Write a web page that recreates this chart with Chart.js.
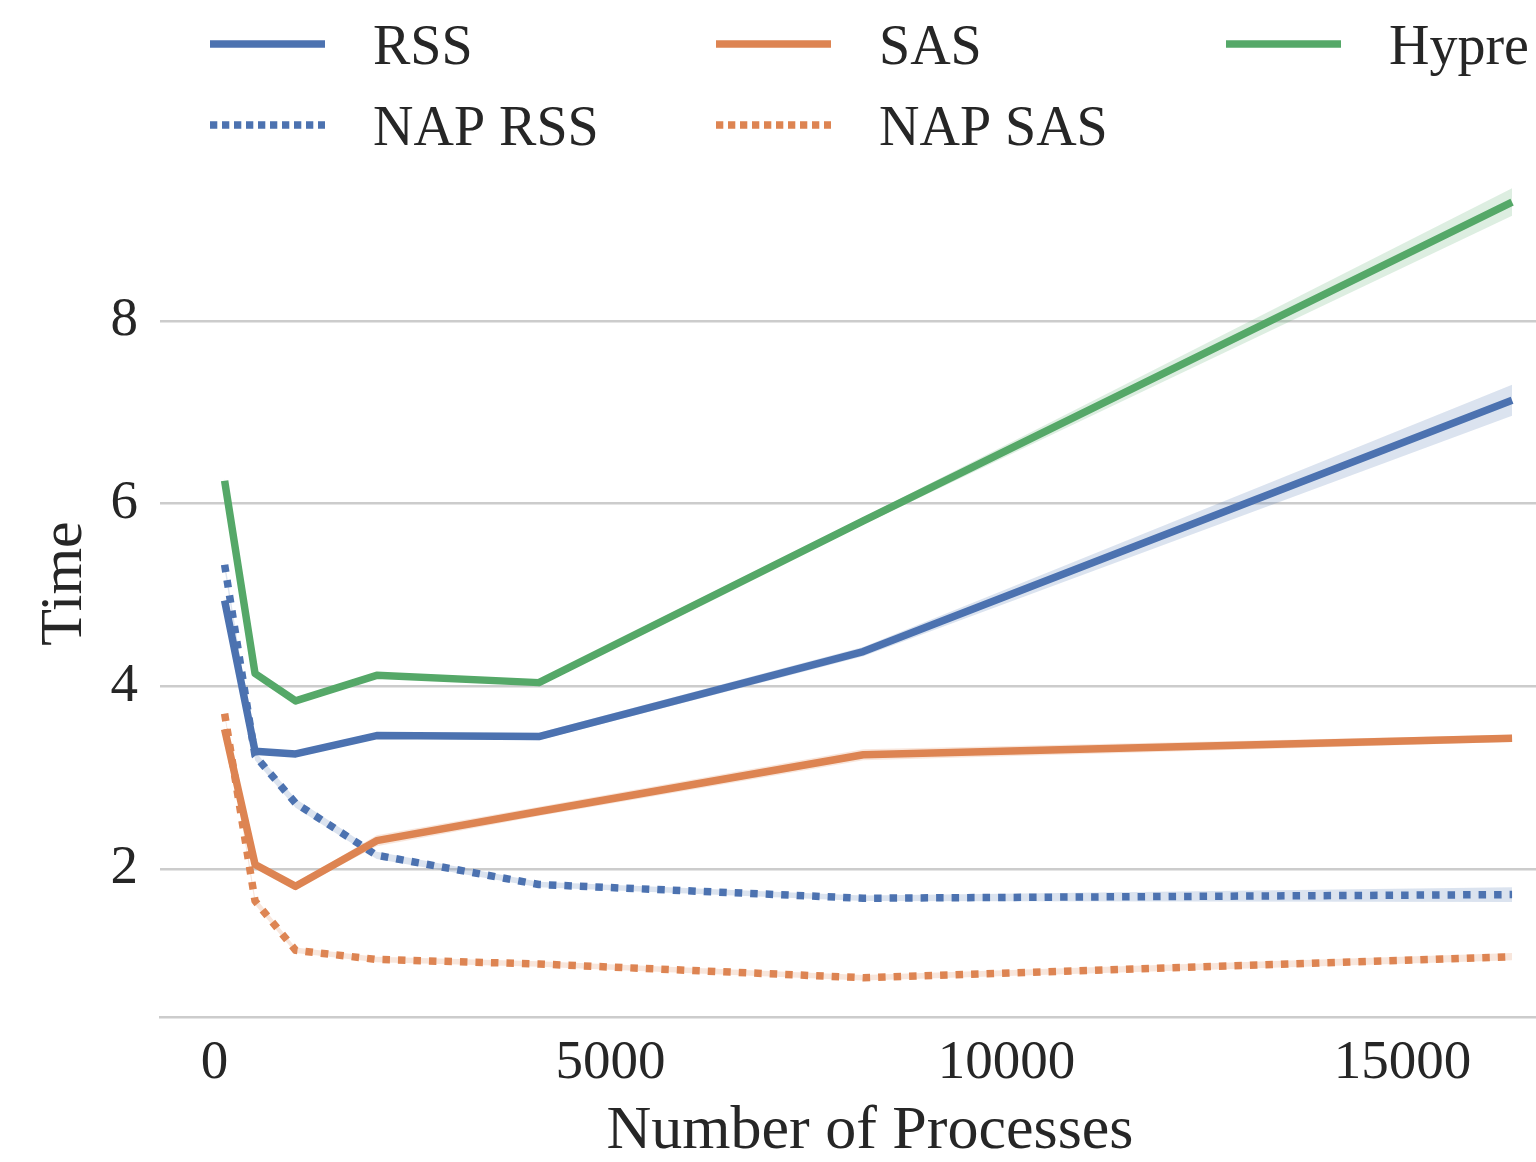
<!DOCTYPE html>
<html>
<head>
<meta charset="utf-8">
<title>Time vs Number of Processes</title>
<script src="https://cdn.jsdelivr.net/npm/chart.js@4/dist/chart.umd.min.js"></script>
<style>
  html, body { margin: 0; padding: 0; background: #ffffff; }
  #wrap { width: 1536px; height: 1162px; }
</style>
</head>
<body>
<div id="wrap"><canvas id="chart" width="1536" height="1162"></canvas></div>
<script>
// Process counts (x axis)
const procs = [128, 512, 1024, 2048, 4096, 8192, 16384];

// Mean times per method
const rss     = [4.94, 3.29, 3.26, 3.46, 3.45, 4.38, 7.13];
const napRss  = [5.33, 3.24, 2.72, 2.15, 1.83, 1.68, 1.72];
const sas     = [3.53, 2.05, 1.81, 2.31, 2.63, 3.25, 3.43];
const napSas  = [3.70, 1.65, 1.11, 1.01, 0.96, 0.81, 1.04];
const hypre   = [6.25, 4.14, 3.84, 4.12, 4.04, 5.81, 9.30];

// Confidence interval bounds per method
const rssLo    = [4.90, 3.26, 3.23, 3.43, 3.41, 4.33, 6.96];
const rssHi    = [4.98, 3.32, 3.29, 3.49, 3.49, 4.43, 7.30];
const napRssLo = [5.28, 3.19, 2.67, 2.11, 1.80, 1.65, 1.64];
const napRssHi = [5.38, 3.29, 2.77, 2.19, 1.86, 1.71, 1.80];
const sasLo    = [3.50, 2.02, 1.78, 2.25, 2.58, 3.19, 3.39];
const sasHi    = [3.56, 2.08, 1.84, 2.37, 2.68, 3.31, 3.47];
const napSasLo = [3.67, 1.61, 1.08, 0.98, 0.93, 0.78, 1.00];
const napSasHi = [3.73, 1.69, 1.14, 1.04, 0.99, 0.84, 1.08];
const hypreLo  = [6.22, 4.11, 3.82, 4.09, 4.01, 5.77, 9.15];
const hypreHi  = [6.28, 4.17, 3.86, 4.15, 4.07, 5.85, 9.45];

// Axis ticks
const xTicks = [0, 5000, 10000, 15000];
const yTicks = [2, 4, 6, 8];

const BLUE = '#4c72b0', ORANGE = '#dd8452', GREEN = '#55a868';
const SERIF = '"Liberation Serif", "DejaVu Serif", serif';
const TEXT = '#262626';

const pts = ys => procs.map((x, i) => ({ x: x, y: ys[i] }));
const fade = (hex, a) => {
  const n = parseInt(hex.slice(1), 16);
  return `rgba(${n >> 16},${(n >> 8) & 255},${n & 255},${a})`;
};

const series = [
  { label: 'RSS',     mean: rss,    lo: rssLo,    hi: rssHi,    color: BLUE,   dotted: false },
  { label: 'NAP RSS', mean: napRss, lo: napRssLo, hi: napRssHi, color: BLUE,   dotted: true  },
  { label: 'SAS',     mean: sas,    lo: sasLo,    hi: sasHi,    color: ORANGE, dotted: false },
  { label: 'NAP SAS', mean: napSas, lo: napSasLo, hi: napSasHi, color: ORANGE, dotted: true  },
  { label: 'Hypre',   mean: hypre,  lo: hypreLo,  hi: hypreHi,  color: GREEN,  dotted: false }
];

const datasets = [];
series.forEach(s => {
  // shaded band: upper edge filled down to the lower edge
  datasets.push({
    label: s.label + ' hi', data: pts(s.hi), borderWidth: 0, pointRadius: 0,
    backgroundColor: fade(s.color, 0.2), fill: '+1', order: 20, tension: 0
  });
  datasets.push({
    label: s.label + ' lo', data: pts(s.lo), borderWidth: 0, pointRadius: 0,
    fill: false, order: 20, tension: 0
  });
});
series.forEach((s, k) => {
  datasets.push({
    label: s.label, data: pts(s.mean), borderColor: s.color, borderWidth: 7.5,
    borderDash: s.dotted ? [7.5, 8] : [], borderCapStyle: 'butt',
    borderJoinStyle: 'round', pointRadius: 0, fill: false, order: 10 - k, tension: 0
  });
});

// Three-column legend above the plot area, plus the x axis title
const decorPlugin = {
  id: 'decor',
  afterDraw(chart) {
    const ctx = chart.ctx;
    const cols = [210, 716, 1226];
    const rows = [44, 125];
    const layout = [[0, 0, 0], [1, 0, 1], [2, 1, 0], [3, 1, 1], [4, 2, 0]];
    ctx.save();
    layout.forEach(([si, c, r]) => {
      const s = series[si];
      const x = cols[c], y = rows[r];
      ctx.beginPath();
      ctx.strokeStyle = s.color;
      ctx.lineWidth = 7.5;
      ctx.lineCap = 'butt';
      ctx.setLineDash(s.dotted ? [7.3, 4.7] : []);
      ctx.moveTo(x, y);
      ctx.lineTo(x + 115, y);
      ctx.stroke();
      ctx.setLineDash([]);
      ctx.fillStyle = TEXT;
      ctx.font = '56px ' + SERIF;
      ctx.textBaseline = 'alphabetic';
      ctx.textAlign = 'left';
      ctx.fillText(s.label, x + 163, y + 20);
    });
    ctx.font = '62px ' + SERIF;
    ctx.textAlign = 'center';
    ctx.textBaseline = 'middle';
    ctx.fillText('Number of Processes', 870, 1132);
    ctx.restore();
  }
};

new Chart(document.getElementById('chart'), {
  type: 'line',
  data: { datasets },
  plugins: [decorPlugin],
  options: {
    responsive: false,
    animation: false,
    layout: { padding: { top: 150, right: 0, left: 0, bottom: 0 } },
    plugins: { legend: { display: false }, tooltip: { enabled: false } },
    scales: {
      x: {
        type: 'linear', min: -688, max: 16686,
        afterBuildTicks: sc => { sc.ticks = xTicks.map(v => ({ value: v })); },
        afterFit: sc => { sc.height = 145; },
        ticks: { color: TEXT, font: { family: SERIF, size: 55, lineHeight: 1.2 }, padding: 14,
                 maxRotation: 0, callback: v => String(v) },
        grid: { display: false, drawTicks: false },
        border: { display: true, color: '#cccccc', width: 2.5 },
        title: { display: false }
      },
      y: {
        type: 'linear', min: 0.38, max: 9.87,
        afterBuildTicks: sc => { sc.ticks = yTicks.map(v => ({ value: v })); },
        afterFit: sc => { sc.width = 160; },
        ticks: { color: TEXT, font: { family: SERIF, size: 55 }, padding: 22, callback: v => String(v) },
        grid: { color: '#cccccc', lineWidth: 2.5, drawTicks: false },
        border: { display: false },
        title: { display: true, text: 'Time', color: TEXT,
                 font: { family: SERIF, size: 60, lineHeight: 1.0 }, padding: { top: 35, bottom: 0 } }
      }
    }
  }
});
</script>
</body>
</html>
